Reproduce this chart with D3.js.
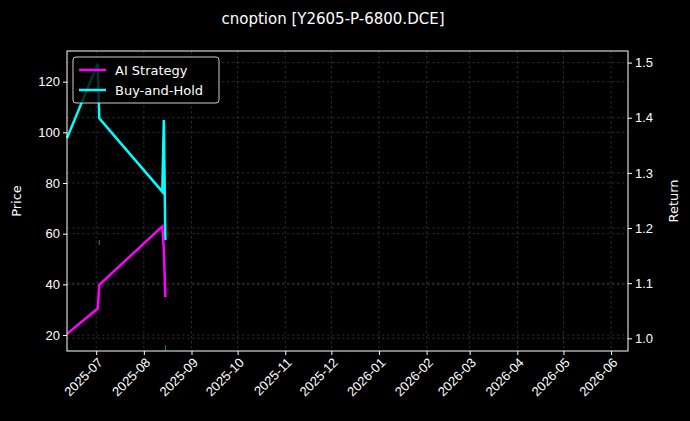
<!DOCTYPE html>
<html><head><meta charset="utf-8">
<script src="https://cdn.jsdelivr.net/npm/d3@7"></script>
<style>body{margin:0;background:#000}svg{display:block;font-family:"DejaVu Sans",sans-serif}</style>
</head><body><svg id="c" width="690" height="421"></svg>
<script>
var title = "cnoption [Y2605-P-6800.DCE]";
var aiDates = ["2025-06-12","2025-07-02","2025-07-03","2025-08-13","2025-08-14","2025-08-15"];
var aiValues = [1.008, 1.054, 1.097, 1.203, 1.16, 1.075];
var bhDates = ["2025-06-12","2025-07-02","2025-07-03","2025-08-13","2025-08-14","2025-08-15"];
var bhValues = [1.363, 1.498, 1.399, 1.266, 1.396, 1.178];
var candleDates = ["2025-07-03","2025-08-15"];
var candleLow = [55.5, 13.8];
var candleHigh = [57.5, 16];
var priceTicks = [20, 40, 60, 80, 100, 120];
var returnTicks = [1.0, 1.1, 1.2, 1.3, 1.4, 1.5];

var parse = d3.timeParse("%Y-%m-%d");
var m = {left: 67, right: 628, top: 51, bottom: 351};
var svg = d3.select("#c");
svg.append("rect").attr("width", 690).attr("height", 421).attr("fill", "#000");

var x = d3.scaleTime().domain([parse("2025-06-12"), parse("2026-06-12")]).range([m.left, m.right]);
var yP = d3.scaleLinear().domain([13.7, 132.1]).range([m.bottom, m.top]);
var yR = d3.scaleLinear().domain([0.977, 1.521]).range([m.bottom, m.top]);
var months = d3.timeMonth.range(parse("2025-07-01"), parse("2026-06-02"));

// grid
var grid = svg.append("g").attr("stroke", "#4a4a4a").attr("stroke-width", 0.6).attr("stroke-dasharray", "2.5,2.5");
months.forEach(function(d) {
  grid.append("line").attr("x1", x(d)).attr("x2", x(d)).attr("y1", m.top).attr("y2", m.bottom);
});
priceTicks.forEach(function(v) {
  grid.append("line").attr("x1", m.left).attr("x2", m.right).attr("y1", yP(v)).attr("y2", yP(v));
});
returnTicks.forEach(function(v) {
  grid.append("line").attr("x1", m.left).attr("x2", m.right).attr("y1", yR(v)).attr("y2", yR(v));
});

// candles
candleDates.forEach(function(d, i) {
  svg.append("line").attr("x1", x(parse(d))).attr("x2", x(parse(d)))
    .attr("y1", yP(candleLow[i])).attr("y2", yP(candleHigh[i]))
    .attr("stroke", "#1a9e1a").attr("stroke-width", 1);
});

var line = d3.line().x(function(d) { return x(d[0]); }).y(function(d) { return yR(d[1]); });
svg.append("path").datum(bhDates.map(function(d, i) { return [parse(d), bhValues[i]]; }))
  .attr("d", line).attr("fill", "none").attr("stroke", "#00ffff").attr("stroke-width", 2.5);
svg.append("path").datum(aiDates.map(function(d, i) { return [parse(d), aiValues[i]]; }))
  .attr("d", line).attr("fill", "none").attr("stroke", "#ff00ff").attr("stroke-width", 2.5);

// frame
svg.append("rect").attr("x", m.left).attr("y", m.top).attr("width", m.right - m.left).attr("height", m.bottom - m.top)
  .attr("fill", "none").attr("stroke", "#fff").attr("stroke-width", 1);

// axes
var ax = svg.append("g").attr("transform", "translate(0," + m.bottom + ")")
  .call(d3.axisBottom(x).tickValues(months).tickFormat(d3.timeFormat("%Y-%m")).tickSize(4));
ax.selectAll("text").attr("transform", "rotate(-45)").style("text-anchor", "end").attr("dx", "-0.3em").attr("dy", "0.5em");
var al = svg.append("g").attr("transform", "translate(" + m.left + ",0)").call(d3.axisLeft(yP).tickValues(priceTicks).tickSize(4));
var ar = svg.append("g").attr("transform", "translate(" + m.right + ",0)").call(d3.axisRight(yR).tickValues(returnTicks).tickFormat(d3.format(".1f")).tickSize(4));
[ax, al, ar].forEach(function(a) {
  a.select(".domain").remove();
  a.selectAll("line").attr("stroke", "#fff");
  a.selectAll("text").attr("fill", "#fff").style("font-size", "13px");
});

svg.append("text").attr("transform", "translate(21,201) rotate(-90)").attr("text-anchor", "middle")
  .attr("fill", "#fff").style("font-size", "13px").text("Price");
svg.append("text").attr("transform", "translate(678,201) rotate(-90)").attr("text-anchor", "middle")
  .attr("fill", "#fff").style("font-size", "13px").text("Return");
svg.append("text").attr("x", 333).attr("y", 24).attr("text-anchor", "middle")
  .attr("fill", "#fff").style("font-size", "15px").text(title);

// legend
var lg = svg.append("g").attr("transform", "translate(73,57)");
lg.append("rect").attr("width", 146).attr("height", 46).attr("rx", 3).attr("fill", "#000").attr("fill-opacity", 0.8).attr("stroke", "#ccc");
[["AI Strategy", "#ff00ff"], ["Buy-and-Hold", "#00ffff"]].forEach(function(s, i) {
  var yy = 13 + i * 20;
  lg.append("line").attr("x1", 6).attr("x2", 33).attr("y1", yy).attr("y2", yy).attr("stroke", s[1]).attr("stroke-width", 2.5);
  lg.append("text").attr("x", 42).attr("y", yy + 4.5).attr("fill", "#fff").style("font-size", "13px").text(s[0]);
});
</script></body></html>
